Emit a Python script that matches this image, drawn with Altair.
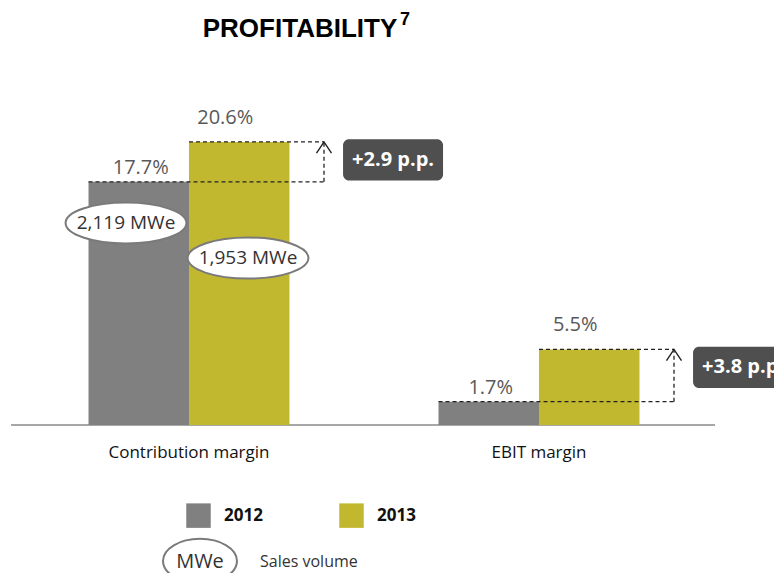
import altair as alt
import pandas as pd

# ---------------- data ----------------
categories = ["Contribution margin", "EBIT margin"]
years = ["2012", "2013"]
margin_2012 = [17.7, 1.7]
margin_2013 = [20.6, 5.5]
volume_labels = ["2,119 MWe", "1,953 MWe"]   # sales volume, contribution margin only
year_colors = ["#808080", "#c2b830"]
title_text = "PROFITABILITY"
title_note = "7"
legend_note = "Sales volume"
legend_unit = "MWe"

# ---------------- layout ----------------
W, H = 766, 565
BW = 0.2871           # bar width in x units (group centers are 0 and 1)
X_DOMAIN = [-0.51714, 1.67143]
Y_DOMAIN = [-10.771, 30.349]
ARROW_DX = 0.3857
BOX_DX = 0.583
BOX_W = 0.2857
FONT = "Open Sans"

xs = alt.Scale(domain=X_DOMAIN, nice=False, zero=False)
ys = alt.Scale(domain=Y_DOMAIN, nice=False, zero=False)
NOAX = None

rows = []
for i, cat in enumerate(categories):
    for j, (yr, vals) in enumerate(zip(years, [margin_2012, margin_2013])):
        rows.append(dict(cat=cat, year=yr, v=vals[i],
                         x=i + (j - 1) * BW, x2=i + j * BW, xc=i + (j - 0.5) * BW,
                         lab=f"{vals[i]:.1f}%"))
bars = pd.DataFrame(rows)

X = lambda f: alt.X(f"{f}:Q", scale=xs, axis=NOAX)
Y = lambda f: alt.Y(f"{f}:Q", scale=ys, axis=NOAX)

bar_layer = alt.Chart(bars).mark_bar(size=1).encode(
    x=X("x"), x2="x2", y=Y("v"), y2=alt.datum(0),
    color=alt.Color("year:N", scale=alt.Scale(domain=years, range=year_colors),
                    legend=alt.Legend(orient="none", legendX=178, legendY=495, direction="horizontal",
                                      columns=2, title=None, symbolType="square", symbolSize=600,
                                      symbolStrokeWidth=0, symbolOpacity=1, labelFontSize=17,
                                      labelFont=FONT, labelFontWeight="bold", labelColor="#111",
                                      labelOffset=13, columnPadding=76, padding=0)),
)

# value labels
lab12 = alt.Chart(bars[bars.year == "2012"]).mark_text(font=FONT, fontSize=20, color="#595959",
                                                      dx=2, dy=-14, baseline="middle").encode(
    x=X("xc"), y=Y("v"), text="lab:N")
lab13 = alt.Chart(bars[bars.year == "2013"]).mark_text(font=FONT, fontSize=20, color="#595959",
                                                      dx=-14, dy=-24, baseline="middle").encode(
    x=X("xc"), y=Y("v"), text="lab:N")

# baseline
base_df = pd.DataFrame([dict(a=-0.5086, b=1.5029, y=0)])
baseline = alt.Chart(base_df).mark_rule(color="#8a8a8a", strokeWidth=1.5).encode(
    x=X("a"), x2="b", y=Y("y"))

# category labels
cat_df = pd.DataFrame(dict(cat=categories, i=list(range(len(categories)))))
cat_labels = alt.Chart(cat_df).mark_text(font=FONT, fontSize=17, color="#111", baseline="middle").encode(
    x=X("i"), y=alt.value(445), text="cat:N")

# change annotation: dashed guides, arrow, box
ann = []
for i, cat in enumerate(categories):
    lo, hi = margin_2012[i], margin_2013[i]
    ann.append(dict(i=i, lo=lo, hi=hi, xa=i - BW, xb=i, xe=i + ARROW_DX,
                    bx=i + BOX_DX - BOX_W / 2, bx2=i + BOX_DX + BOX_W / 2, bc=i + BOX_DX,
                    by=hi - 1.3 - 1.5, by2=hi - 1.3 + 1.5, bym=hi - 1.3,
                    delta=f"+{hi - lo:.1f} p.p."))
ann = pd.DataFrame(ann)
dash = dict(color="#222", strokeWidth=1.3, strokeDash=[4, 3])
guide_lo = alt.Chart(ann).mark_rule(**dash).encode(x=X("xa"), x2="xe", y=Y("lo"))
guide_hi = alt.Chart(ann).mark_rule(**dash).encode(x=X("xb"), x2="xe", y=Y("hi"))
guide_v = alt.Chart(ann).mark_rule(**dash).encode(x=X("xe"), y=Y("lo"), y2="hi")
arrow_head = alt.Chart(ann).mark_point(shape="M-1,1.5L0,0L1,1.5", size=225, filled=False,
                                       color="#222", strokeWidth=1.4, opacity=1).encode(
    x=X("xe"), y=Y("hi"))
box = alt.Chart(ann).mark_rect(color="#4f4f4f", cornerRadius=6).encode(
    x=X("bx"), x2="bx2", y=Y("by"), y2="by2")
box_txt = alt.Chart(ann).mark_text(font=FONT, fontSize=20, fontWeight="bold", color="white",
                                   baseline="middle").encode(x=X("bc"), y=Y("bym"), text="delta:N")

# sales-volume ellipses (contribution margin)
ell_df = pd.DataFrame(dict(lab=volume_labels, x=[-0.18, 0.1686], y=[14.7, 12.15]))
ELL = "M-1,0A1,0.34,0,1,1,1,0A1,0.34,0,1,1,-1,0Z"
ell = alt.Chart(ell_df).mark_point(shape=ELL, size=14600, filled=True, fill="white",
                                   stroke="#7a7a7a", strokeWidth=2, opacity=1).encode(
    x=X("x"), y=Y("y"))
ell_txt = alt.Chart(ell_df).mark_text(font=FONT, fontSize=19, color="#333", baseline="middle").encode(
    x=X("x"), y=Y("y"), text="lab:N")

# title
one = pd.DataFrame(dict(t=[title_text], n=[title_note], s=[legend_note], u=[legend_unit]))
title = alt.Chart(one).mark_text(font="Liberation Sans", fontSize=26, fontWeight="bold", color="#000",
                                 align="center", baseline="alphabetic").encode(
    x=alt.value(292), y=alt.value(29), text="t:N")
title_sup = alt.Chart(one).mark_text(font="Liberation Sans", fontSize=18, fontWeight="bold", color="#000",
                                     align="left", baseline="alphabetic").encode(
    x=alt.value(392), y=alt.value(17), text="n:N")

# legend note row
LEG_ELL = "M-1,0A1,0.6,0,1,1,1,0A1,0.6,0,1,1,-1,0Z"
leg_ell = alt.Chart(one).mark_point(shape=LEG_ELL, size=5476, filled=True, fill="white",
                                    stroke="#7a7a7a", strokeWidth=2, opacity=1).encode(
    x=alt.value(192), y=alt.value(553))
leg_unit = alt.Chart(one).mark_text(font=FONT, fontSize=20, color="#333", baseline="middle").encode(
    x=alt.value(192), y=alt.value(554), text="u:N")
leg_note = alt.Chart(one).mark_text(font=FONT, fontSize=16, color="#333", align="left",
                                    baseline="middle").encode(
    x=alt.value(252), y=alt.value(554), text="s:N")

chart = alt.layer(
    baseline, bar_layer, guide_lo, guide_hi, guide_v, arrow_head, box, box_txt,
    lab12, lab13, ell, ell_txt, cat_labels, title, title_sup, leg_ell, leg_unit, leg_note,
).properties(
    width=W, height=H, autosize=alt.AutoSizeParams(type="none"), padding=0
).configure_view(stroke=None)

chart.save("out.html", embed_options={"renderer": "svg", "actions": False})
